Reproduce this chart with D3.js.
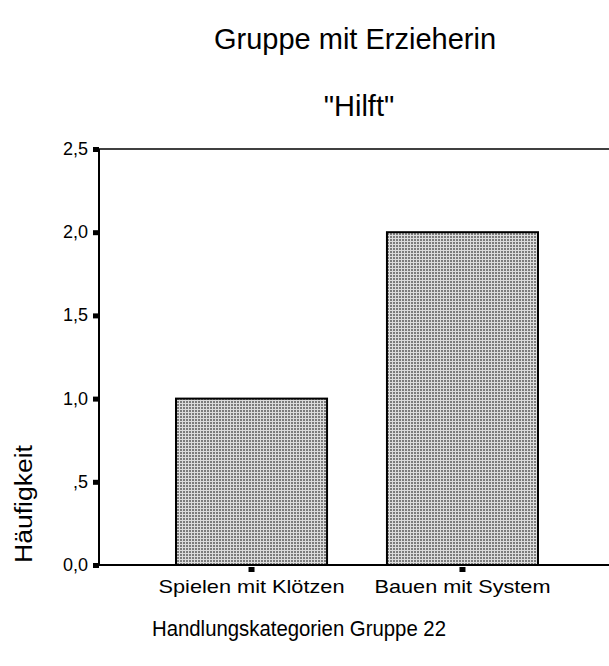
<!DOCTYPE html>
<html>
<head>
<meta charset="utf-8">
<script src="https://cdn.jsdelivr.net/npm/d3@7"></script>
<style>
  body { margin: 0; background: #fff; }
  text { font-family: "Liberation Sans", Arial, sans-serif; fill: #000; }
</style>
</head>
<body>
<div id="chart"></div>
<script>
// Chart data
const categories = ["Spielen mit Klötzen", "Bauen mit System"];
const counts = [1.0, 2.0];
const yTicks = [0, 0.5, 1.0, 1.5, 2.0, 2.5];
const yTickLabels = ["0,0", ",5", "1,0", "1,5", "2,0", "2,5"];

const W = 609, H = 666;
const margin = { top: 149, right: 0, bottom: 101, left: 99 };
const width = W - margin.left - margin.right;
const height = H - margin.top - margin.bottom;

const svg = d3.select("#chart").append("svg")
    .attr("width", W)
    .attr("height", H);

// grid fill for the bars
const pat = svg.append("defs").append("pattern")
    .attr("id", "grid")
    .attr("patternUnits", "userSpaceOnUse")
    .attr("width", 3).attr("height", 3);
pat.append("rect").attr("width", 3).attr("height", 3).attr("fill", "#dcdcdc");
pat.append("rect").attr("width", 2).attr("height", 2).attr("fill", "#7c7c7c");

const g = svg.append("g")
    .attr("transform", `translate(${margin.left},${margin.top})`);

const x = d3.scaleBand()
    .domain(categories)
    .range([77, 439])
    .paddingInner(0.284)
    .paddingOuter(0);

const y = d3.scaleLinear()
    .domain([0, 2.5])
    .range([height, 0]);

// bars
g.selectAll(".bar")
    .data(categories)
    .enter()
    .append("rect")
    .attr("class", "bar")
    .attr("x", d => x(d))
    .attr("y", (d, i) => y(counts[i]))
    .attr("width", x.bandwidth())
    .attr("height", (d, i) => y(0) - y(counts[i]))
    .attr("fill", "url(#grid)")
    .attr("stroke", "#000")
    .attr("stroke-width", 2);

// frame lines: top, bottom, left
g.append("line").attr("x1", 0).attr("x2", width).attr("y1", 0).attr("y2", 0)
    .attr("stroke", "#000").attr("stroke-width", 1.5);
g.append("line").attr("x1", 0).attr("x2", width).attr("y1", height).attr("y2", height)
    .attr("stroke", "#000").attr("stroke-width", 2);
g.append("line").attr("x1", 0).attr("x2", 0).attr("y1", 0).attr("y2", height)
    .attr("stroke", "#000").attr("stroke-width", 2);

// y ticks as small black blocks
const yt = g.selectAll(".ytick")
    .data(yTicks)
    .enter()
    .append("g")
    .attr("transform", d => `translate(0,${y(d)})`);
yt.append("rect")
    .attr("x", -6).attr("y", -2)
    .attr("width", 6).attr("height", 5)
    .attr("fill", "#000");
yt.append("text")
    .attr("x", -11)
    .attr("y", 6)
    .attr("text-anchor", "end")
    .attr("font-size", 18)
    .text((d, i) => yTickLabels[i]);

// x ticks and labels
const xt = g.selectAll(".xtick")
    .data(categories)
    .enter()
    .append("g")
    .attr("transform", d => `translate(${x(d) + x.bandwidth() / 2},${height})`);
xt.append("rect")
    .attr("x", -3).attr("y", 2)
    .attr("width", 6).attr("height", 5)
    .attr("fill", "#000");
const catWidths = [186, 176];
xt.append("text")
    .attr("y", 28)
    .attr("text-anchor", "middle")
    .attr("font-size", 19)
    .attr("textLength", (d, i) => catWidths[i])
    .attr("lengthAdjust", "spacingAndGlyphs")
    .text(d => d);

// titles
svg.append("text")
    .attr("x", 355).attr("y", 49)
    .attr("text-anchor", "middle")
    .attr("font-size", 29)
    .text("Gruppe mit Erzieherin");
svg.append("text")
    .attr("x", 359).attr("y", 116)
    .attr("text-anchor", "middle")
    .attr("font-size", 29)
    .text("\"Hilft\"");

// axis titles
svg.append("text")
    .attr("x", 299).attr("y", 636)
    .attr("text-anchor", "middle")
    .attr("font-size", 22)
    .attr("textLength", 294)
    .attr("lengthAdjust", "spacingAndGlyphs")
    .text("Handlungskategorien Gruppe 22");
svg.append("text")
    .attr("transform", "translate(32,504) rotate(-90)")
    .attr("text-anchor", "middle")
    .attr("font-size", 23)
    .attr("textLength", 118)
    .attr("lengthAdjust", "spacingAndGlyphs")
    .text("Häufigkeit");
</script>
</body>
</html>
